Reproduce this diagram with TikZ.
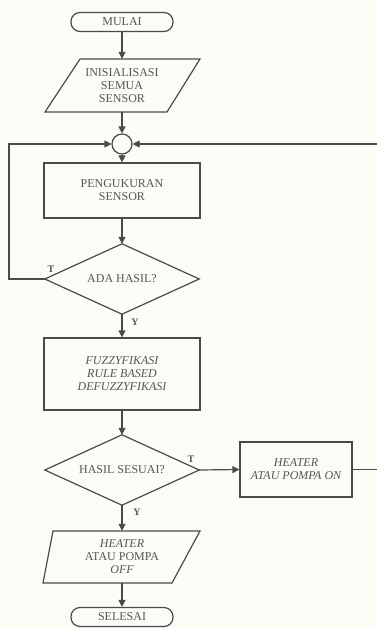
\documentclass[tikz,border=0pt]{standalone}
\usepackage{fontspec}
\setmainfont{Liberation Serif}
\usetikzlibrary{arrows.meta}
\definecolor{linec}{HTML}{4A4A4A}
\definecolor{textc}{HTML}{555555}
\definecolor{bgc}{RGB}{252,252,246}
\begin{document}
\begin{tikzpicture}[x=1pt,y=-1pt,
  base/.style={draw=linec, line width=1.2pt, text=textc, font=\fontsize{12}{13}\selectfont, align=center, inner sep=0pt},
  term/.style={base, rectangle, rounded corners=9pt, minimum width=102pt, minimum height=19pt},
  box/.style={base, rectangle, minimum width=156pt},
  txt/.style={text=textc, font=\fontsize{12}{13}\selectfont, align=center, inner sep=0pt},
  dec/.style={txt, minimum width=154pt, minimum height=70pt},
  lbl/.style={text=textc, font=\fontsize{10}{12}\selectfont\bfseries, inner sep=0pt},
  arr/.style={draw=linec, line width=1.2pt, -{Triangle[length=7pt,width=7pt]}},
  plain/.style={draw=linec, line width=1.2pt}]
\fill[bgc] (0,0) rectangle (376,628);
\useasboundingbox (0,0) rectangle (376,628);

\node[term] (mulai) at (122,22) {MULAI};
\draw[plain] (80,59) -- (200,59) -- (167,112) -- (45,112) -- cycle;
\node[txt, minimum height=53pt] (init) at (122,85.5) {INISIALISASI\\SEMUA\\SENSOR};
\node[base, circle, minimum size=20pt] (circ) at (122,144) {};
\node[box, minimum height=55pt] (ukur) at (122,190.5) {PENGUKURAN\\SENSOR};
\node[dec] (ada) at (122,279) {ADA HASIL?};
\draw[plain] (ada.north) -- (ada.east) -- (ada.south) -- (ada.west) -- cycle;
\node[box, minimum height=72pt] (fuzzy) at (122,374) {\itshape FUZZYFIKASI\\\itshape RULE BASED\\\itshape DEFUZZYFIKASI};
\node[dec] (sesuai) at (122,470) {HASIL SESUAI?};
\draw[plain] (sesuai.north) -- (sesuai.east) -- (sesuai.south) -- (sesuai.west) -- cycle;
\node[box, minimum width=112pt, minimum height=55pt] (on) at (296,469.5) {\itshape HEATER\\\itshape ATAU POMPA ON};
\draw[plain] (53,531) -- (200,531) -- (172,583) -- (43,583) -- cycle;
\node[txt, minimum height=52pt] (off) at (122,557) {\itshape HEATER\\ATAU POMPA\\\itshape OFF};
\node[term] (selesai) at (122,617) {SELESAI};

\coordinate (lc) at (9,144);
\coordinate (rc) at (382,144);

\draw[arr] (mulai) -- (init);
\draw[arr] (init) -- (circ);
\draw[arr] (circ) -- (ukur);
\draw[arr] (ukur) -- (ada.north);
\draw[arr] (ada.south) -- (fuzzy);
\draw[arr] (fuzzy) -- (sesuai.north);
\draw[arr] (sesuai.south) -- (off.north);
\draw[arr] (off) -- (selesai);
\draw[arr] (sesuai.east) -- (on.west);
\draw[arr] (ada.west) -| (lc) -- (circ.west);
\draw[arr] (on.east) -| (rc) -- (circ.east);

\node[lbl] (t1) at (51,269) {T};
\node[lbl] (y1) at (135,322) {Y};
\node[lbl] (t2) at (191,459) {T};
\node[lbl] (y2) at (137,512) {Y};
\end{tikzpicture}
\end{document}
